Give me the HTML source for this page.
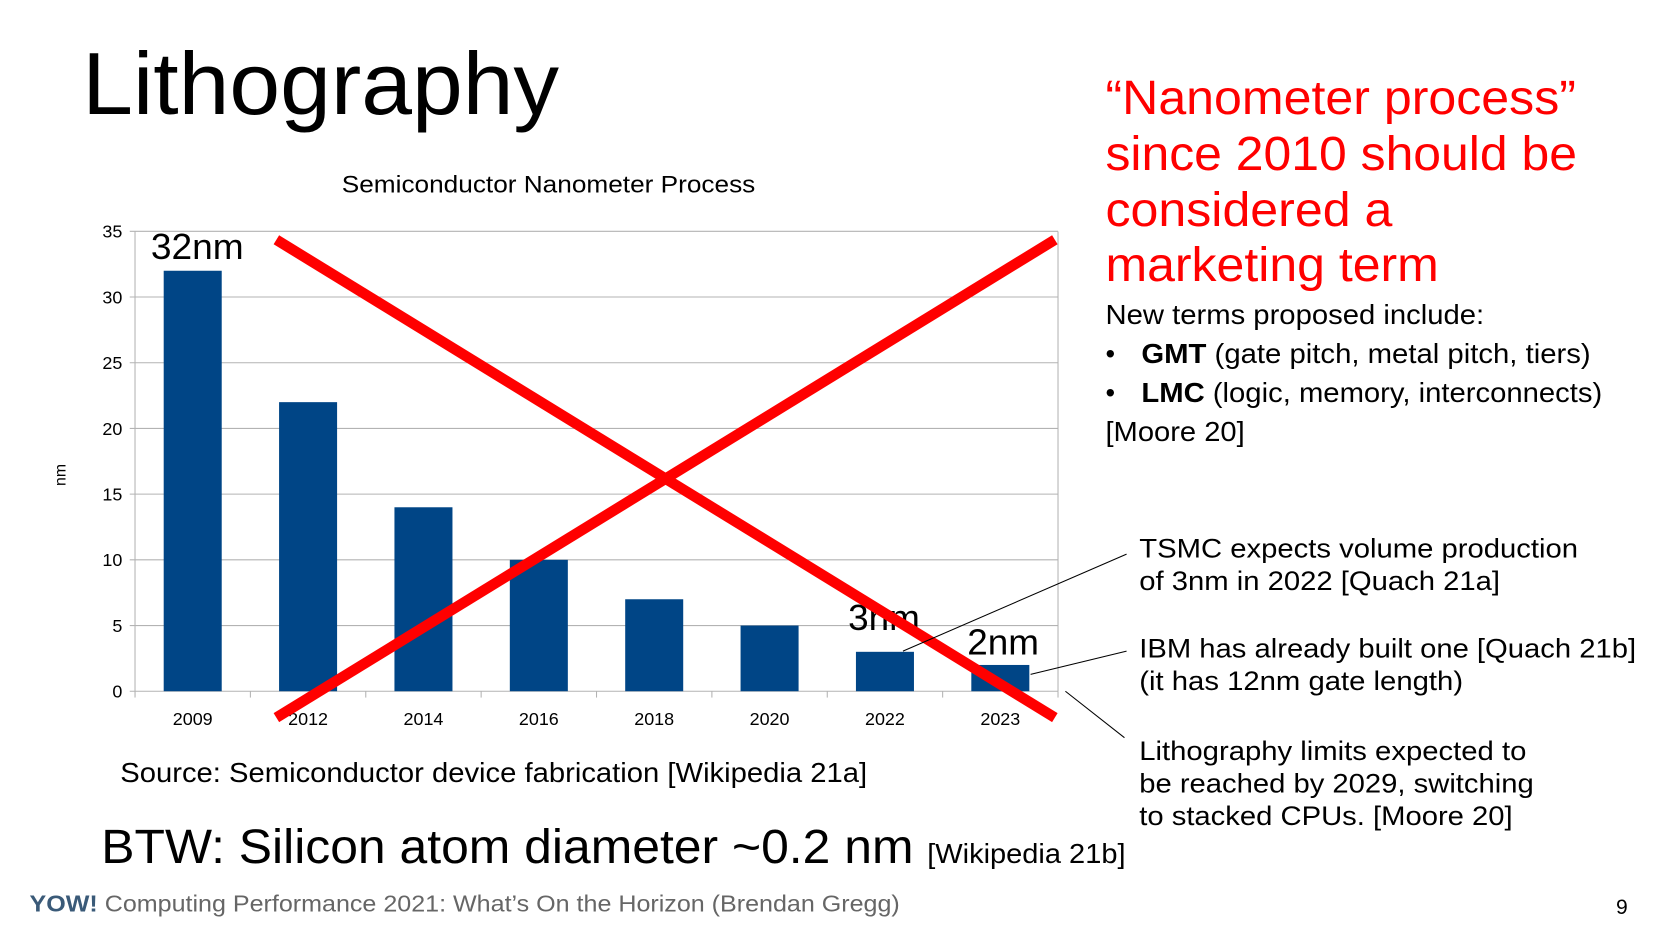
<!DOCTYPE html>
<html><head><meta charset="utf-8"><style>
html,body{margin:0;padding:0;background:#fff;}
svg{display:block;font-family:"Liberation Sans",sans-serif;}
</style></head><body>
<svg id="s" width="1654" height="931" viewBox="0 0 1568 882">
<rect width="1568" height="882" fill="#fff"/>
<text x="78" y="108" font-size="84" textLength="452" lengthAdjust="spacingAndGlyphs">Lithography</text>
<text x="324" y="182" font-size="23" textLength="392" lengthAdjust="spacingAndGlyphs">Semiconductor Nanometer Process</text>
<text transform="translate(62,450) rotate(-90)" font-size="15" text-anchor="middle">nm</text>
<g id="grid"></g>
<g id="bars"></g>
<g id="ticks"></g>
<text x="143" y="245" font-size="34" textLength="88" lengthAdjust="spacingAndGlyphs">32nm</text>
<text x="804" y="597" font-size="34" textLength="68" lengthAdjust="spacingAndGlyphs">3nm</text>
<text x="917" y="620" font-size="34" textLength="68" lengthAdjust="spacingAndGlyphs">2nm</text>
<line x1="262" y1="227" x2="1000" y2="680" stroke="#ff0000" stroke-width="10"/>
<line x1="262" y1="680" x2="1000" y2="227" stroke="#ff0000" stroke-width="10"/>
<line x1="856" y1="617" x2="1068" y2="525" stroke="#000" stroke-width="1"/>
<line x1="977" y1="639" x2="1068" y2="617" stroke="#000" stroke-width="1"/>
<line x1="1010" y1="655" x2="1066" y2="699" stroke="#000" stroke-width="1"/>
<g fill="#ff0000" font-size="46" lengthAdjust="spacingAndGlyphs">
<text x="1048" y="108" textLength="446" lengthAdjust="spacingAndGlyphs">“Nanometer process”</text>
<text x="1048" y="161" textLength="447" lengthAdjust="spacingAndGlyphs">since 2010 should be</text>
<text x="1048" y="214" textLength="272" lengthAdjust="spacingAndGlyphs">considered a</text>
<text x="1048" y="266" textLength="316" lengthAdjust="spacingAndGlyphs">marketing term</text></g>
<g font-size="26">
<text x="1048" y="307" textLength="359" lengthAdjust="spacingAndGlyphs">New terms proposed include:</text>
<text x="1048" y="344">•</text><text x="1082" y="344" textLength="426" lengthAdjust="spacingAndGlyphs"><tspan font-weight="bold">GMT</tspan> (gate pitch, metal pitch, tiers)</text>
<text x="1048" y="381">•</text><text x="1082" y="381" textLength="437" lengthAdjust="spacingAndGlyphs"><tspan font-weight="bold">LMC</tspan> (logic, memory, interconnects)</text>
<text x="1048" y="418" textLength="132" lengthAdjust="spacingAndGlyphs">[Moore 20]</text></g>
<g font-size="25">
<text x="1080" y="528" textLength="416" lengthAdjust="spacingAndGlyphs">TSMC expects volume production</text>
<text x="1080" y="559" textLength="342" lengthAdjust="spacingAndGlyphs">of 3nm in 2022 [Quach 21a]</text>
<text x="1080" y="623" textLength="471" lengthAdjust="spacingAndGlyphs">IBM has already built one [Quach 21b]</text>
<text x="1080" y="654" textLength="307" lengthAdjust="spacingAndGlyphs">(it has 12nm gate length)</text>
<text x="1080" y="720" textLength="367" lengthAdjust="spacingAndGlyphs">Lithography limits expected to</text>
<text x="1080" y="751" textLength="374" lengthAdjust="spacingAndGlyphs">be reached by 2029, switching</text>
<text x="1080" y="782" textLength="354" lengthAdjust="spacingAndGlyphs">to stacked CPUs. [Moore 20]</text></g>
<text x="114" y="741" font-size="26" textLength="708" lengthAdjust="spacingAndGlyphs">Source: Semiconductor device fabrication [Wikipedia 21a]</text>
<text x="96" y="818" font-size="46" textLength="770" lengthAdjust="spacingAndGlyphs">BTW: Silicon atom diameter ~0.2 nm</text>
<text x="879" y="818" font-size="26" textLength="188" lengthAdjust="spacingAndGlyphs">[Wikipedia 21b]</text>
<text x="28" y="864" font-size="22" fill="#666" textLength="825" lengthAdjust="spacingAndGlyphs"><tspan font-weight="bold" fill="#3a5a78">YOW!</tspan> Computing Performance 2021: What’s On the Horizon (Brendan Gregg)</text>
<text x="1532" y="866" font-size="20">9</text>
</svg>
<script>
const categories=["2009","2012","2014","2016","2018","2020","2022","2023"];
const values=[32,22,14,10,7,5,3,2];
const yTicks=[0,5,10,15,20,25,30,35];
const NS="http://www.w3.org/2000/svg";
const X0=128,X1=1003,Y0=655,Y1=219,YMAX=35;
const bw=(X1-X0)/categories.length;
function y(v){return Y0-(v/YMAX)*(Y0-Y1);}
function xc(i){return X0+bw*(i+0.5);}
function mk(tag,attrs,parent){const e=document.createElementNS(NS,tag);for(const k in attrs)e.setAttribute(k,attrs[k]);document.getElementById(parent).appendChild(e);return e;}
yTicks.forEach(t=>{
 const l=mk("line",{x1:X0-5,x2:X1,y1:y(t),y2:y(t),stroke:"#b3b3b3","stroke-width":1},"grid");
 
 
 const tx=mk("text",{x:X0-12,y:y(t)+6,"font-size":17,"text-anchor":"end"},"ticks");
 tx.textContent=t;
 
 
});
const ax=mk("line",{x1:X0,x2:X0,y1:Y1,y2:Y0+5,stroke:"#b3b3b3"},"grid");


const rx=mk("line",{x1:X1,x2:X1,y1:Y1,y2:Y0,stroke:"#b3b3b3"},"grid");


for(let i=0;i<=categories.length;i++){
 const tk=mk("line",{x1:X0+bw*i,x2:X0+bw*i,y1:Y0,y2:Y0+6,stroke:"#b3b3b3"},"grid");
 
 
}
categories.forEach((c,i)=>{
 const b=mk("rect",{x:xc(i)-27.5,y:y(values[i]),width:55,height:Y0-y(values[i]),fill:"#004586"},"bars");
 
 
 const t=mk("text",{x:xc(i),y:687,"font-size":17,"text-anchor":"middle"},"ticks");
 t.textContent=c;
 
 
});
</script>
</body></html>
